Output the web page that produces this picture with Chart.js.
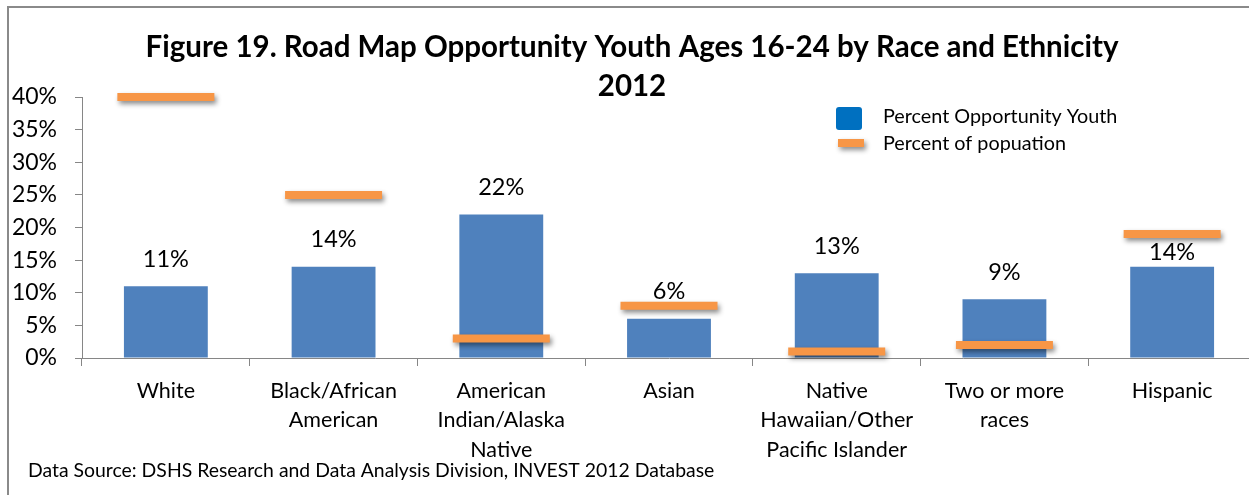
<!DOCTYPE html>
<html>
<head>
<meta charset="utf-8">
<script src="https://cdn.jsdelivr.net/npm/chart.js@4/dist/chart.umd.min.js"></script>
<style>
  html, body { margin: 0; padding: 0; background: #fff; overflow: hidden; }
  canvas { display: block; }
</style>
</head>
<body>
<canvas id="chart" width="1256" height="495"></canvas>
<script>
// Categories (multi-line axis labels)
const categories = [
  'White',
  ['Black/African', 'American'],
  ['American', 'Indian/Alaska', 'Native'],
  'Asian',
  ['Native', 'Hawaiian/Other', 'Pacific Islander'],
  ['Two or more', 'races'],
  'Hispanic'
];

// Percent of opportunity youth in each group
const youthPct = [11, 14, 22, 6, 13, 9, 14];

// Percent of the overall population in each group
const populationPct = [40, 25, 3, 8, 1, 2, 19];

// Y axis ticks
const yTicks = [0, 5, 10, 15, 20, 25, 30, 35, 40];

const titleLines = ['Figure 19. Road Map Opportunity Youth Ages 16-24 by Race and Ethnicity', '2012'];
const seriesNames = ['Percent Opportunity Youth', 'Percent of popuation'];
const sourceNote = 'Data Source: DSHS Research and Data Analysis Division, INVEST 2012 Database';

const BLUE = '#4F81BD';
const ORANGE = '#F79646';
const AXIS = '#868686';
const FONT = 'Lato, "Open Sans", sans-serif';

// Soft drop shadow under the population markers
const markerShadow = {
  id: 'markerShadow',
  beforeDatasetDraw(chart, args) {
    if (args.index !== 1) return;
    const ctx = chart.ctx;
    ctx.save();
    ctx.shadowColor = 'rgba(0,0,0,0.45)';
    ctx.shadowBlur = 5;
    ctx.shadowOffsetX = 2;
    ctx.shadowOffsetY = 3;
  },
  afterDatasetDraw(chart, args) {
    if (args.index !== 1) return;
    chart.ctx.restore();
  }
};

// Value labels above the bars
const barValues = {
  id: 'barValues',
  afterDatasetsDraw(chart, args, opts) {
    const ctx = chart.ctx;
    const meta = chart.getDatasetMeta(0);
    ctx.save();
    ctx.font = '23.5px ' + FONT;
    ctx.fillStyle = '#000';
    ctx.textAlign = 'center';
    ctx.textBaseline = 'middle';
    meta.data.forEach((bar, i) => {
      const lift = (opts.liftOverrides && opts.liftOverrides[i] != null) ? opts.liftOverrides[i] : opts.lift;
      ctx.fillText(chart.data.datasets[0].data[i] + '%', bar.x, bar.y - lift);
    });
    ctx.restore();
  }
};

// Frame, title, legend and source note
const decorations = {
  id: 'decorations',
  beforeDraw(chart) {
    const ctx = chart.ctx;
    ctx.save();
    ctx.fillStyle = '#fff';
    ctx.fillRect(0, 0, chart.width, chart.height);
    ctx.restore();
  },
  afterDraw(chart) {
    const ctx = chart.ctx;
    ctx.save();
    // frame (top and left edges)
    ctx.strokeStyle = '#8a8a8a';
    ctx.lineWidth = 2;
    ctx.beginPath();
    ctx.moveTo(chart.width, 7);
    ctx.lineTo(8, 7);
    ctx.lineTo(8, chart.height);
    ctx.stroke();

    // title
    ctx.fillStyle = '#000';
    ctx.textAlign = 'center';
    ctx.textBaseline = 'middle';
    ctx.font = 'bold 29.5px ' + FONT;
    ctx.fillText(titleLines[0], 632, 47);
    ctx.fillText(titleLines[1], 632, 86);

    // legend
    ctx.fillStyle = '#0070C0';
    ctx.beginPath();
    ctx.roundRect(836, 107, 26, 23, 3);
    ctx.fill();
    ctx.save();
    ctx.shadowColor = 'rgba(0,0,0,0.45)';
    ctx.shadowBlur = 5;
    ctx.shadowOffsetX = 2;
    ctx.shadowOffsetY = 3;
    ctx.fillStyle = ORANGE;
    ctx.fillRect(838, 139, 26, 8);
    ctx.restore();
    ctx.fillStyle = '#000';
    ctx.textAlign = 'left';
    ctx.font = '19.8px ' + FONT;
    ctx.fillText(seriesNames[0], 883, 117);
    ctx.fillText(seriesNames[1], 883, 144);

    // source note
    ctx.font = '19.4px ' + FONT;
    ctx.fillText(sourceNote, 28, 471);
    ctx.restore();
  }
};

new Chart(document.getElementById('chart'), {
  data: {
    labels: categories,
    datasets: [
      {
        type: 'bar',
        label: seriesNames[0],
        data: youthPct,
        backgroundColor: BLUE,
        borderWidth: 0,
        barPercentage: 0.5,
        categoryPercentage: 1,
        order: 2
      },
      {
        type: 'line',
        label: seriesNames[1],
        data: populationPct,
        showLine: false,
        pointStyle: 'line',
        pointRadius: 48.5,
        pointHoverRadius: 48.5,
        pointBorderWidth: 8,
        pointHoverBorderWidth: 8,
        pointBorderColor: ORANGE,
        pointBackgroundColor: ORANGE,
        clip: false,
        order: 1
      }
    ]
  },
  options: {
    responsive: false,
    animation: false,
    devicePixelRatio: 1,
    layout: { autoPadding: false, padding: { top: 97, left: 0, right: 0, bottom: 0 } },
    plugins: {
      legend: { display: false },
      title: { display: false },
      tooltip: { enabled: false },
      barValues: { lift: 27, liftOverrides: { 6: 14 } }
    },
    scales: {
      x: {
        type: 'category',
        offset: true,
        grid: {
          offset: true,
          drawOnChartArea: false,
          drawTicks: true,
          tickLength: 8,
          color: AXIS
        },
        border: { color: AXIS, width: 1 },
        ticks: {
          color: '#000',
          font: { family: FONT, size: 21.5, lineHeight: 1.37 },
          padding: 10,
          maxRotation: 0,
          autoSkip: false
        },
        afterFit(scale) { scale.height = 137; }
      },
      y: {
        min: 0,
        max: 40,
        afterBuildTicks(scale) { scale.ticks = yTicks.map(v => ({ value: v })); },
        grid: {
          drawOnChartArea: false,
          drawTicks: true,
          tickLength: 7,
          color: AXIS
        },
        border: { color: AXIS, width: 1 },
        ticks: {
          color: '#000',
          font: { family: FONT, size: 23 },
          padding: 18,
          callback: v => v + '%'
        },
        afterFit(scale) { scale.width = 82; }
      }
    }
  },
  plugins: [decorations, markerShadow, barValues]
});
</script>
</body>
</html>
